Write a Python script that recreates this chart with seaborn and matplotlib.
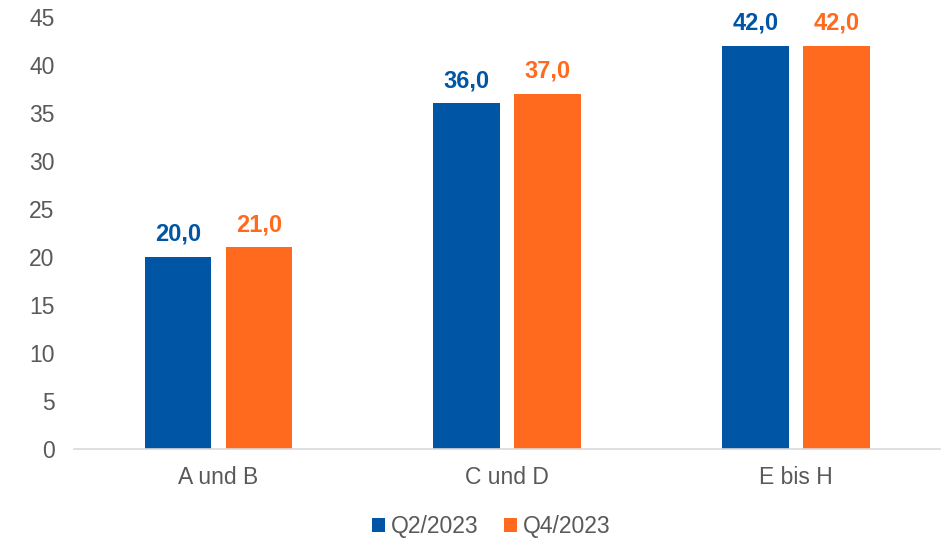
import matplotlib
matplotlib.use("Agg")
import matplotlib.pyplot as plt
import seaborn as sns
import pandas as pd

categories = ["A und B", "C und D", "E bis H"]
series = ["Q2/2023", "Q4/2023"]
q2_values = [20.0, 36.0, 42.0]
q4_values = [21.0, 37.0, 42.0]
colors = ["#0055A4", "#FF6A1F"]

df = pd.DataFrame({
    "cat": categories * 2,
    "series": [series[0]] * 3 + [series[1]] * 3,
    "value": q2_values + q4_values,
})

sns.set_style("white")
plt.rcParams["font.family"] = ["Liberation Sans", "DejaVu Sans"]

fig = plt.figure(figsize=(9.53, 5.38), dpi=100)
ax = fig.add_axes([0.0777, 0.1654, 0.909, 0.803])
sns.barplot(data=df, x="cat", y="value", hue="series", palette=colors,
            width=0.56, gap=0.175, ax=ax, saturation=1, errorbar=None,
            linewidth=0)

ax.set_xlim(-0.5, 2.5)
ax.set_ylim(0, 45)
ax.set_yticks(range(0, 46, 5))
ax.set_xlabel("")
ax.set_ylabel("")
ax.tick_params(axis="both", labelsize=16.5, labelcolor="#595959", length=0)
ax.tick_params(axis="x", pad=12)
ax.tick_params(axis="y", pad=14)
for s in ["top", "right", "left"]:
    ax.spines[s].set_visible(False)
ax.spines["bottom"].set_color("#d9d9d9")
ax.spines["bottom"].set_linewidth(1.2)

for cont, col in zip(ax.containers, colors):
    ax.bar_label(cont, labels=[f"{v:.1f}".replace(".", ",") for v in cont.datavalues],
                 padding=8, fontsize=17, fontweight="bold", color=col)

leg = ax.legend(loc="center", bbox_to_anchor=(0.4816, -0.18), ncol=2, frameon=False,
                fontsize=16.5, handlelength=0.57, handleheight=0.57, handletextpad=0.26,
                columnspacing=1.1)
for t in leg.get_texts():
    t.set_color("#595959")

fig.savefig("out.png", dpi=100)
